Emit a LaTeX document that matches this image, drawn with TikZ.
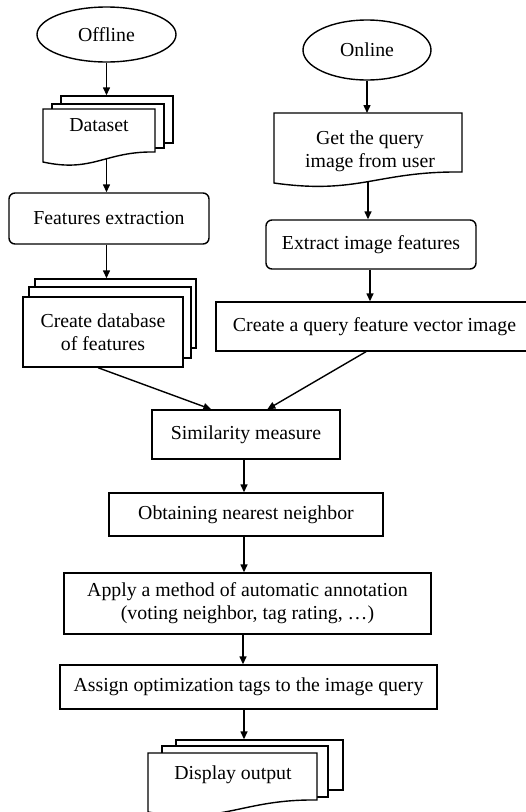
\documentclass[tikz,border=0pt]{standalone}
\usepackage{fontspec}
\setmainfont{Liberation Serif}
\usetikzlibrary{arrows.meta,shapes.geometric,calc}
\begin{document}
\begin{tikzpicture}[x=1pt,y=-1pt,
  every node/.style={font=\fontsize{19.8}{23}\selectfont, inner sep=0pt, align=center},
  box/.style={draw, line width=1.4pt, fill=white},
  rbox/.style={box, rounded corners=6pt},
  oval/.style={draw, line width=1.4pt, ellipse, inner sep=0pt},
  sheet/.style={draw, line width=1.4pt, fill=white},
  arr/.style={line width=1.4pt, -{Triangle[length=8pt,width=7pt]}}
]
\useasboundingbox (0,0) rectangle (526,812);

% ---------- Offline branch ----------
\node[oval, minimum width=139pt, minimum height=55pt] (off) at (106.5,34.5) {Offline};

% Dataset (multi document)
\node[sheet, minimum width=112pt, minimum height=47pt] (ds3) at (117,119.5) {};
\node[sheet, minimum width=112pt, minimum height=44pt] (ds2) at (108,126) {};
\draw[sheet] (43,109) -- (155,109) -- (155,152)
  .. controls (105,151) and (93,173) .. (43,162) -- cycle;
\node (ds) at (99,125) {Dataset};
\coordinate (dsb) at (106.5,159);

\node[rbox, minimum width=200pt, minimum height=51pt] (fe) at (109,218.5) {Features extraction};

% Create database of features (multi document)
\node[sheet, minimum width=161pt, minimum height=69pt] (cd3) at (115.5,313.5) {};
\node[sheet, minimum width=162pt, minimum height=71pt] (cd2) at (110,322.5) {};
\node[sheet, minimum width=160pt, minimum height=70pt] (cd) at (103,332) {Create database\\of features};

% ---------- Online branch ----------
\node[oval, minimum width=128pt, minimum height=60pt] (on) at (367,50) {Online};

\draw[sheet] (274,113) -- (462,113) -- (462,172)
  .. controls (377,171) and (359,195) .. (274,183) -- cycle;
\node (gq) at (370,151) {Get the query\\image from user};
\coordinate (gqt) at (367,113);
\coordinate (gqb) at (368,182);

\node[rbox, minimum width=210pt, minimum height=49pt] (ef) at (371,244.5) {Extract image features};

\node[box, minimum width=317pt, minimum height=49pt] (qv) at (374.5,326.5) {Create a query feature vector image};

% ---------- Common part ----------
\node[box, minimum width=188pt, minimum height=49pt] (sim) at (246,434.5) {Similarity measure};
\node[box, minimum width=274pt, minimum height=43pt] (nn) at (246,514.5) {Obtaining nearest neighbor};
\node[box, minimum width=367pt, minimum height=61pt] (ann) at (247.5,603.5) {Apply a method of automatic annotation\\(voting neighbor, tag rating, \dots)};
\node[box, minimum width=377pt, minimum height=44pt] (tag) at (248.5,687) {Assign optimization tags to the image query};

% Display output (multi document)
\node[sheet, minimum width=167pt, minimum height=50pt] (do3) at (259.5,765) {};
\node[sheet, minimum width=166pt, minimum height=51pt] (do2) at (245,771.5) {};
\draw[sheet] (148,753) -- (317,753) -- (317,800)
  .. controls (241,799) and (224,825) .. (148,812) -- cycle;
\node (do) at (233,775) {Display output};

% ---------- Connectors ----------
\draw[arr] (off.south) -- (off.south |- ds3.north);
\draw[arr] (dsb) -- (dsb |- fe.north);
\draw[arr] (fe.south -| dsb) -- (dsb |- cd3.north);

\draw[arr] (on.south) -- (gqt);
\draw[arr] (gqb) -- (gqb |- ef.north);
\draw[arr] ($(ef.south)+(-1,0)$) -- ($(ef.south |- qv.north)+(-1,0)$);

\draw[arr] ($(cd.south)+(-5,0)$) -- ($(sim.north west)+(60,0)$);
\draw[arr] ($(qv.south)+(-8.5,0)$) -- ($(sim.north west)+(116,0)$);

\draw[arr] ($(sim.south)+(-2,0)$) -- ($(nn.north)+(-2,0)$);
\draw[arr] ($(nn.south)+(-2,0)$) -- ($(nn.south |- ann.north)+(-2,0)$);
\draw[arr] ($(ann.south)+(-4.5,0)$) -- ($(ann.south |- tag.north)+(-4.5,0)$);
\draw[arr] ($(tag.south)+(-4.5,0)$) -- ($(tag.south |- do3.north)+(-4.5,0)$);
\end{tikzpicture}
\end{document}
